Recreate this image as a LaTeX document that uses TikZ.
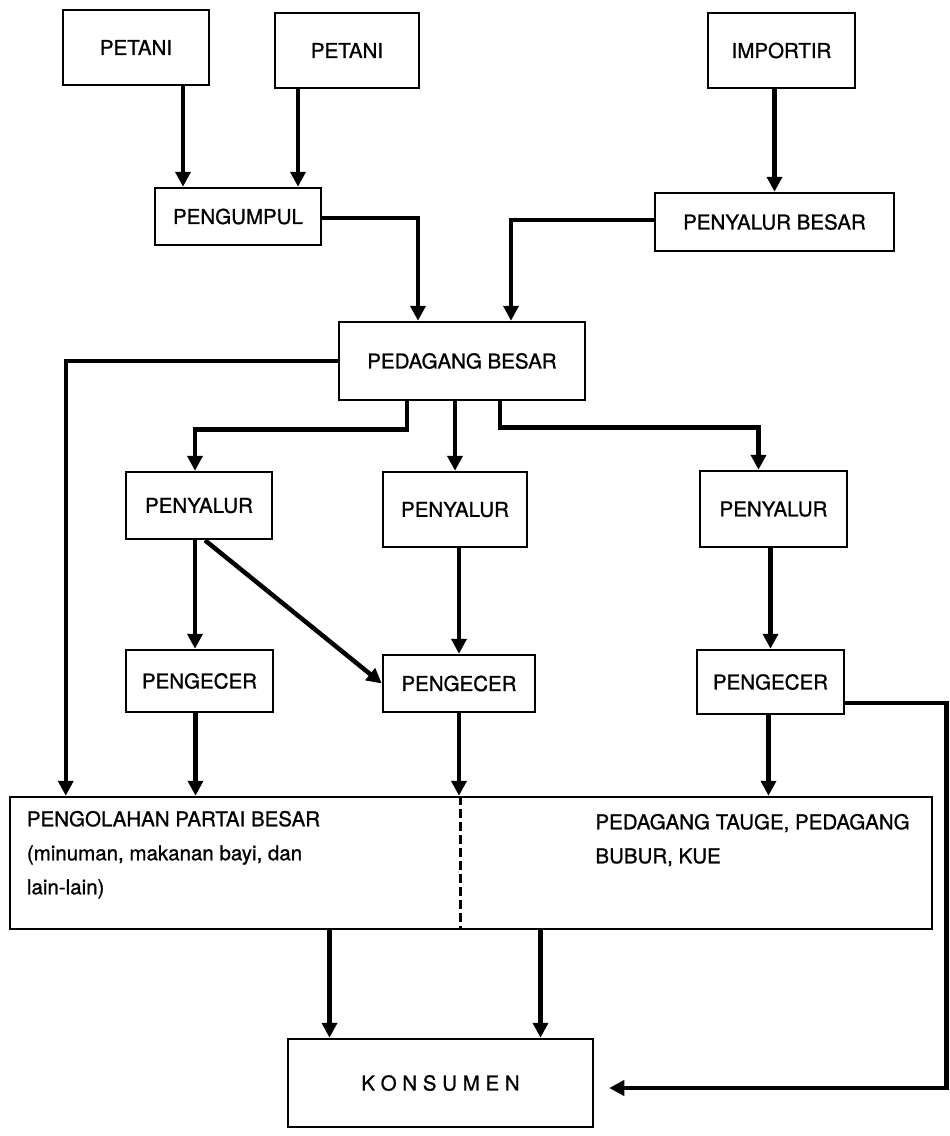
\documentclass[tikz,border=0pt]{standalone}
\usepackage{fontspec}
\setmainfont[FakeBold=1]{TeX Gyre Heros}
\usetikzlibrary{arrows.meta}
\begin{document}
\begin{tikzpicture}[x=1pt,y=-1pt,
    box/.style={draw,line width=2.5pt,minimum width=#1,inner sep=0pt},
    flow/.style={line width=4.5pt,-{Triangle[length=15pt,width=15pt]}},
    font=\fontsize{20.5}{34}\selectfont]
        \useasboundingbox (0,0) rectangle (950,1136);
        % boxes
        \node[box=146pt,minimum height=75pt] (petaniA) at (136,47.5) {PETANI};
        \node[box=144pt,minimum height=75pt] (petaniB) at (347,50.5) {PETANI};
        \node[box=147pt,minimum height=75pt] (importir) at (781.5,50.5) {IMPORTIR};
        \node[box=166pt,minimum height=57pt] (pengumpul) at (238,216.5) {PENGUMPUL};
        \node[box=239pt,minimum height=58pt] (penyalurbesar) at (774.5,222) {PENYALUR BESAR};
        \node[box=246pt,minimum height=78pt] (pedagang) at (462,361) {PEDAGANG BESAR};
        \node[box=146pt,minimum height=67pt] (penyalurA) at (199,505.5) {PENYALUR};
        \node[box=144pt,minimum height=75pt] (penyalurB) at (455,509.5) {PENYALUR};
        \node[box=147pt,minimum height=76pt] (penyalurC) at (773.5,509) {PENYALUR};
        \node[box=147pt,minimum height=62pt] (pengecerA) at (199.5,681) {PENGECER};
        \node[box=152pt,minimum height=57pt] (pengecerB) at (459,683.5) {PENGECER};
        \node[box=147pt,minimum height=64pt] (pengecerC) at (770.5,682) {PENGECER};
        \node[box=922pt,minimum height=132pt] (olah) at (471,863) {};
        \node[box=305pt,minimum height=88pt] (konsumen) at (440.5,1083) {K O N S U M E N};
        \node[anchor=north west,align=left,inner sep=0pt] (olahkiri) at ([xshift=18pt,yshift=-15pt]olah.north west)
            {PENGOLAHAN PARTAI BESAR\\(minuman, makanan bayi, dan\\lain-lain)};
        \node[anchor=north west,align=left,inner sep=0pt] (olahkanan) at ([xshift=-338pt,yshift=-18pt]olah.north east)
            {PEDAGANG TAUGE, PEDAGANG\\BUBUR, KUE};
        \draw[line width=3pt,dash pattern=on 9pt off 4pt] ([xshift=-11pt]olah.north) -- ([xshift=-11pt]olah.south);
        % arrows
        \draw[flow] ([xshift=47pt]petaniA.south) -- ([xshift=47pt]petaniA.south |- pengumpul.north);
        \draw[flow] ([xshift=-49pt]petaniB.south) -- ([xshift=-49pt]petaniB.south |- pengumpul.north);
        \draw[flow] (importir.south -| penyalurbesar.north) -- (penyalurbesar.north);
        \draw[flow] ([yshift=-1.5pt]pengumpul.east) -| ([xshift=-44pt]pedagang.north);
        \draw[flow] ([yshift=2pt]penyalurbesar.west) -| ([xshift=49pt]pedagang.north);
        \draw[flow] (pedagang.west) -| ([xshift=57pt]olah.north west);
        \draw[flow] ([xshift=-55pt]pedagang.south) -- ++(0,28) -| ([xshift=-4pt]penyalurA.north);
        \draw[flow] (pedagang.south -| penyalurB.north) -- (penyalurB.north);
        \draw[flow] ([xshift=38pt]pedagang.south) -- ++(0,26) -| ([xshift=-15pt]penyalurC.north);
        \draw[flow] ([xshift=-4pt]penyalurA.south) -- ([xshift=-4pt]penyalurA.south |- pengecerA.north);
        \draw[flow] ([xshift=6pt]penyalurA.south) -- (pengecerB.west);
        \draw[flow] (pengecerB.north |- penyalurB.south) -- (pengecerB.north);
        \draw[flow] (pengecerC.north |- penyalurC.south) -- (pengecerC.north);
        \draw[flow] ([xshift=-4pt]pengecerA.south) -- ([xshift=-4pt]pengecerA.south |- olah.north);
        \draw[flow] (pengecerB.south) -- (pengecerB.south |- olah.north);
        \draw[flow] ([xshift=-2pt]pengecerC.south) -- ([xshift=-2pt]pengecerC.south |- olah.north);
        \draw[flow] ([yshift=-21pt]pengecerC.east) -- ++(101,0) |- ([xshift=15pt,yshift=-5pt]konsumen.east);
        \draw[flow] ([xshift=-111pt]konsumen.north |- olah.south) -- ([xshift=-111pt]konsumen.north);
        \draw[flow] ([xshift=100pt]konsumen.north |- olah.south) -- ([xshift=100pt]konsumen.north);
    \end{tikzpicture}
\end{document}
